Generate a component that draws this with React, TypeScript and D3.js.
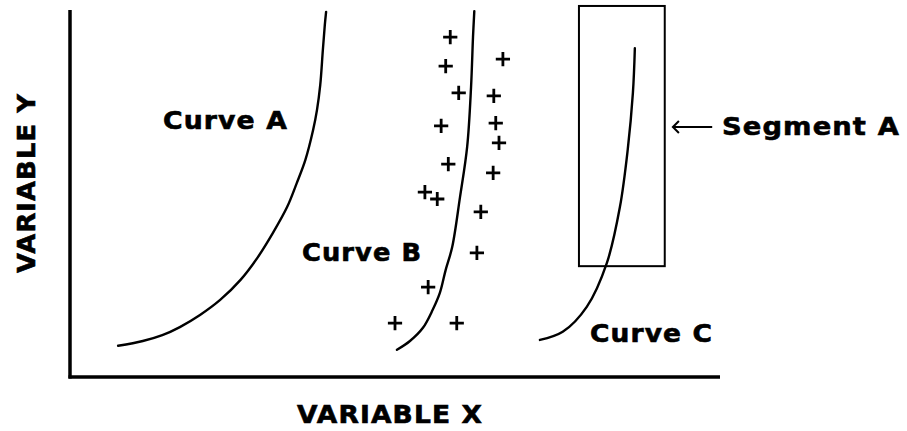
import React from 'react';
import * as d3 from 'd3';

// chart space: x and y both run 0..100 along the axes
const curveA: [number, number][] = [
  [7.4, 8.5], [11.2, 9.8], [14.2, 11.4], [16.9, 13.6], [20.0, 16.9], [23.1, 21.0],
  [26.2, 26.4], [28.8, 32.4], [31.2, 39.2], [33.4, 46.3], [34.9, 52.9], [36.2, 59.1],
  [37.4, 67.3], [38.0, 72.8], [38.5, 79.6], [38.9, 89.1], [39.2, 95.9], [39.4, 99.5],
];

const curveB: [number, number][] = [
  [50.3, 7.4], [52.3, 9.8], [54.3, 13.4], [55.8, 18.3], [56.9, 22.9], [57.8, 29.2],
  [58.8, 35.4], [60.0, 49.0], [61.1, 62.7], [61.7, 79.0], [62.0, 92.6], [62.2, 99.7],
];

const curveC: [number, number][] = [
  [72.3, 10.1], [75.8, 12.3], [79.5, 19.1], [82.6, 31.1], [84.6, 46.3],
  [85.8, 61.9], [86.6, 77.4], [86.9, 89.6],
];

const observations: [number, number][] = [
  [58.5, 92.6], [57.8, 84.7], [66.6, 86.6], [59.8, 77.4], [65.2, 76.6], [57.1, 68.4],
  [65.5, 69.2], [66.0, 63.8], [58.2, 58.0], [65.1, 55.6], [54.6, 50.4], [56.5, 48.5],
  [63.2, 45.0], [62.6, 33.8], [55.1, 24.5], [50.0, 14.7], [59.5, 14.7],
];

// segment box: [x0, x1], [y0, y1]
const segmentX = [78.3, 91.5];
const segmentY = [30.2, 101.1];
const arrowX = [92.6, 98.8];
const arrowY = 68.1;

const labels = [
  { text: 'Curve A', x: 14.3, y: 67.6, len: 125 },
  { text: 'Curve B', x: 35.7, y: 31.6, len: 120 },
  { text: 'Curve C', x: 80.0, y: 9.5, len: 123 },
  { text: 'Segment A', x: 100.3, y: 65.9, len: 178 },
];

const W = 907, H = 431;
const AX = { left: 70, right: 720, top: 10, bottom: 377 };

export default function App() {
  const x = d3.scaleLinear().domain([0, 100]).range([AX.left, AX.right]);
  const y = d3.scaleLinear().domain([0, 100]).range([AX.bottom, AX.top]);

  const line = d3.line<[number, number]>()
    .x(d => x(d[0]))
    .y(d => y(d[1]))
    .curve(d3.curveCatmullRom.alpha(0.5));

  const plus = d3.symbol(d3.symbolPlus, 68)();
  const font = {
    fontFamily: '"DejaVu Sans", Verdana, sans-serif', fontWeight: 700, fontSize: 24, letterSpacing: 1,
    stroke: '#000', strokeWidth: 0.6,
  };

  const ay = y(arrowY);
  const ax0 = x(arrowX[0]);

  return (
    <svg width={W} height={H} style={{ position: 'absolute', left: 0, top: 0, background: '#fff' }}>
      {/* axes */}
      <line x1={AX.left} x2={AX.left} y1={AX.top} y2={AX.bottom + 1.5} stroke="#000" strokeWidth={3.5} />
      <line x1={AX.left - 1.5} x2={AX.right} y1={AX.bottom} y2={AX.bottom} stroke="#000" strokeWidth={3.5} />

      {[curveA, curveB, curveC].map((c, i) => (
        <path key={i} d={line(c) || ''} fill="none" stroke="#000" strokeWidth={2.4} strokeLinecap="round" />
      ))}

      {observations.map((d, i) => (
        <path key={i} d={plus || ''} transform={`translate(${x(d[0])},${y(d[1])})`}
          fill="none" stroke="#000" strokeWidth={2.8} />
      ))}

      <rect x={x(segmentX[0])} y={y(segmentY[1])}
        width={x(segmentX[1]) - x(segmentX[0])} height={y(segmentY[0]) - y(segmentY[1])}
        fill="none" stroke="#000" strokeWidth={2} />

      <line x1={ax0 + 1} x2={x(arrowX[1])} y1={ay} y2={ay} stroke="#000" strokeWidth={2} />
      <path d={`M${ax0 + 7},${ay - 6}L${ax0 + 1},${ay}L${ax0 + 7},${ay + 6}`} fill="none" stroke="#000" strokeWidth={2} />

      {labels.map(l => (
        <text key={l.text} x={x(l.x)} y={y(l.y)} textLength={l.len} lengthAdjust="spacingAndGlyphs" style={font}>{l.text}</text>
      ))}

      <text x={297} y={423} textLength={186} lengthAdjust="spacingAndGlyphs" style={font}>VARIABLE X</text>
      <text transform="translate(35,273) rotate(-90)" textLength={180} lengthAdjust="spacingAndGlyphs" style={font}>VARIABLE Y</text>
    </svg>
  );
}
